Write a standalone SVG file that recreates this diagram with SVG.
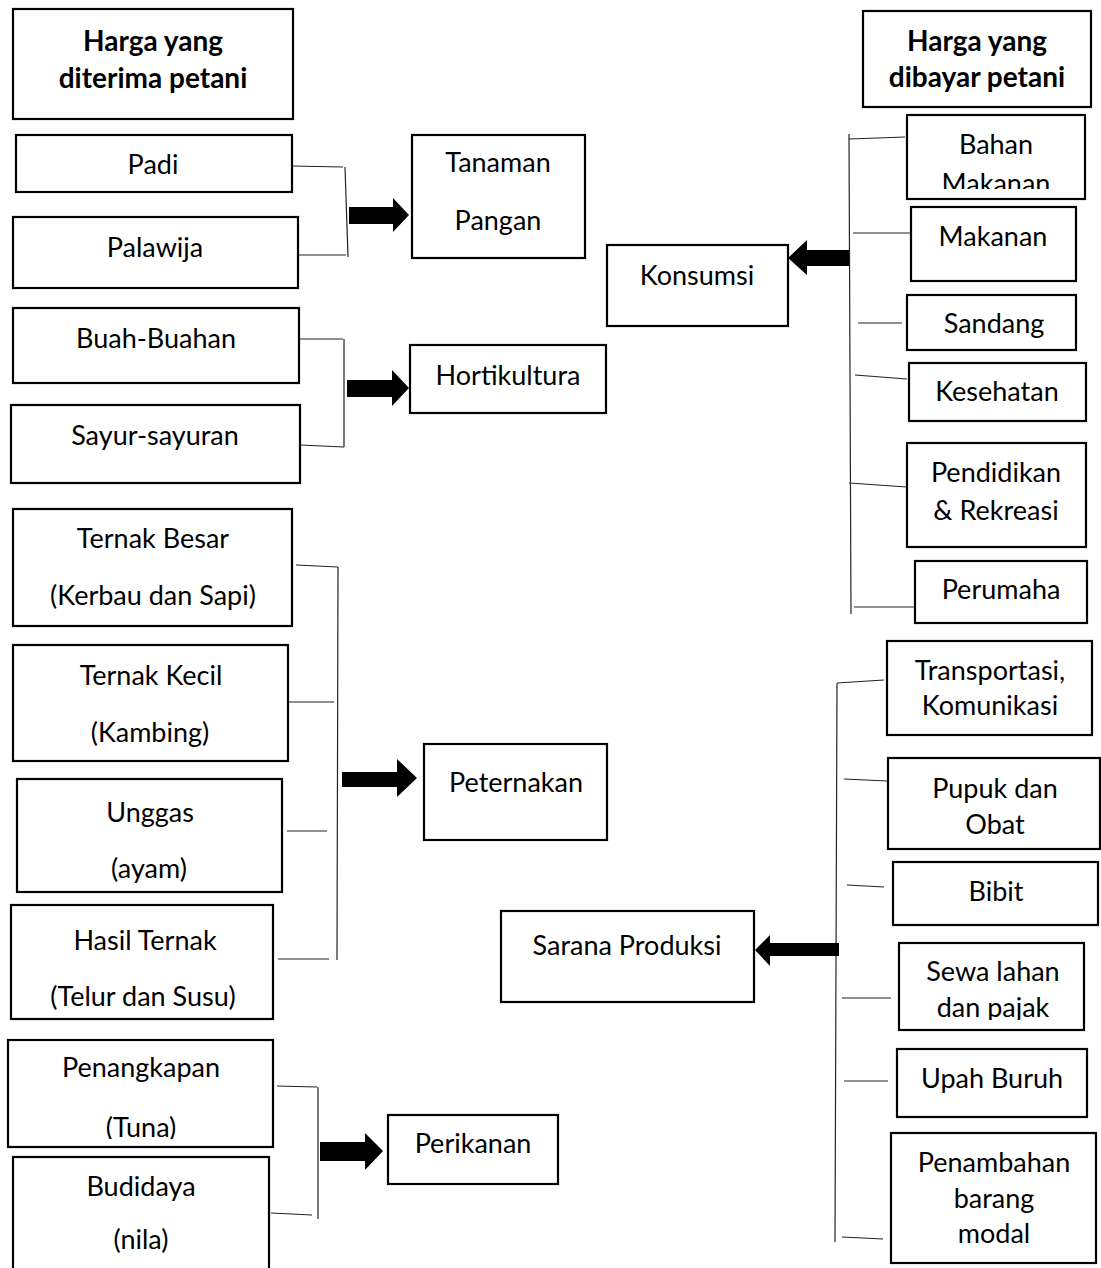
<svg xmlns="http://www.w3.org/2000/svg" width="1101" height="1268" viewBox="0 0 1101 1268">
<style>
.box{fill:#fff;stroke:#000;stroke-width:2.2}
.t{font-family:Lato,"Liberation Sans",sans-serif;font-size:27px;fill:#000;text-anchor:middle}
.h{font-family:Lato,"Liberation Sans",sans-serif;font-size:28px;font-weight:bold;fill:#000;text-anchor:middle}
.ln{stroke:#222;stroke-width:1.2;fill:none}
.ar{fill:#000;stroke:none}
</style>
<defs>
<clipPath id="cBahan"><rect x="907" y="115" width="178" height="74"/></clipPath>
<clipPath id="cSewa"><rect x="899" y="943" width="185" height="77"/></clipPath>
<clipPath id="cTuna"><rect x="8" y="1040" width="265" height="99"/></clipPath>
</defs>
<rect width="1101" height="1268" fill="#fff"/>

<g id="connectors">
<!-- Tanaman Pangan -->
<path class="ln" d="M292,166 L343,167 M345,167 L348,257 M298,255 L346,255"/>
<path class="ar" d="M349,207 H393 V198 L409,215 L393,232 V224 H349 Z"/>
<!-- Hortikultura -->
<path class="ln" d="M300,339 L343,339 M344,339 L344,447 M300,445 L344,447"/>
<path class="ar" d="M347,380 H392 V370 L409,388 L392,406 V397 H347 Z"/>
<!-- Peternakan -->
<path class="ln" d="M296,565 L338,567 M338,567 L337,960 M288,702 L334,702 M287,831 L327,831 M278,959 L329,959"/>
<path class="ar" d="M342,772 H397 V759 L417,778 L397,797 V787 H342 Z"/>
<!-- Perikanan -->
<path class="ln" d="M277,1086 L317,1087 M318,1087 L318,1219 M271,1213 L312,1215"/>
<path class="ar" d="M320,1142 H365 V1133 L383,1151 L365,1170 V1161 H320 Z"/>
<!-- Konsumsi -->
<path class="ln" d="M849,134 L851,614 M849,139 L905,137 M853,233 L910,233 M858,323 L902,323 M855,375 L907,379 M849,483 L907,487 M854,607 L915,607"/>
<path class="ar" d="M849,250 H807 V240 L788,258 L807,275 V266 H849 Z"/>
<!-- Sarana Produksi -->
<path class="ln" d="M837,683 L835,1242 M837,683 L884,680 M844,779 L887,781 M847,885 L884,887 M842,998 L891,998 M844,1081 L888,1081 M842,1237 L883,1239"/>
<path class="ar" d="M839,943 H770 V935 L755,950 L770,966 V956 H839 Z"/>
</g>

<g id="hdr-terima"><rect class="box" x="13" y="9" width="280" height="110"/><text class="h" x="153" y="51">Harga yang</text><text class="h" x="153" y="88">diterima petani</text></g>
<g id="hdr-bayar"><rect class="box" x="863" y="11" width="228" height="96"/><text class="h" x="977" y="51">Harga yang</text><text class="h" x="977" y="87">dibayar petani</text></g>

<g id="padi"><rect class="box" x="16" y="135" width="276" height="57"/><text class="t" x="153" y="174">Padi</text></g>
<g id="palawija"><rect class="box" x="13" y="217" width="285" height="71"/><text class="t" x="155" y="257">Palawija</text></g>
<g id="tanaman-pangan"><rect class="box" x="412" y="135" width="173" height="123"/><text class="t" x="498" y="172">Tanaman</text><text class="t" x="498" y="230">Pangan</text></g>

<g id="buah"><rect class="box" x="13" y="308" width="286" height="75"/><text class="t" x="156" y="348">Buah-Buahan</text></g>
<g id="sayur"><rect class="box" x="11" y="405" width="289" height="78"/><text class="t" x="155" y="445">Sayur-sayuran</text></g>
<g id="hortikultura"><rect class="box" x="410" y="345" width="196" height="68"/><text class="t" x="508" y="385">Hortikultura</text></g>

<g id="ternak-besar"><rect class="box" x="13" y="509" width="279" height="117"/><text class="t" x="153" y="548">Ternak Besar</text><text class="t" x="153" y="605">(Kerbau dan Sapi)</text></g>
<g id="ternak-kecil"><rect class="box" x="13" y="645" width="275" height="116"/><text class="t" x="151" y="685">Ternak Kecil</text><text class="t" x="150" y="742">(Kambing)</text></g>
<g id="unggas"><rect class="box" x="17" y="779" width="265" height="113"/><text class="t" x="150" y="822">Unggas</text><text class="t" x="149" y="878">(ayam)</text></g>
<g id="hasil-ternak"><rect class="box" x="11" y="905" width="262" height="114"/><text class="t" x="145" y="950">Hasil Ternak</text><text class="t" x="143" y="1006">(Telur dan Susu)</text></g>
<g id="peternakan"><rect class="box" x="424" y="744" width="183" height="96"/><text class="t" x="516" y="792">Peternakan</text></g>

<g id="penangkapan"><rect class="box" x="8" y="1040" width="265" height="107"/><text class="t" x="141" y="1077">Penangkapan</text><text class="t" x="141" y="1137" clip-path="url(#cTuna)">(Tuna)</text></g>
<g id="budidaya"><rect class="box" x="13" y="1157" width="256" height="120"/><text class="t" x="141" y="1196">Budidaya</text><text class="t" x="141" y="1249">(nila)</text></g>
<g id="perikanan"><rect class="box" x="388" y="1115" width="170" height="69"/><text class="t" x="473" y="1153">Perikanan</text></g>

<g id="konsumsi"><rect class="box" x="607" y="245" width="181" height="81"/><text class="t" x="697" y="285">Konsumsi</text></g>
<g id="bahan-makanan"><rect class="box" x="907" y="115" width="178" height="84"/><g clip-path="url(#cBahan)"><text class="t" x="996" y="154">Bahan</text><text class="t" x="996" y="193">Makanan</text></g></g>
<g id="makanan"><rect class="box" x="911" y="207" width="165" height="74"/><text class="t" x="993" y="246">Makanan</text></g>
<g id="sandang"><rect class="box" x="907" y="295" width="169" height="55"/><text class="t" x="994" y="333">Sandang</text></g>
<g id="kesehatan"><rect class="box" x="909" y="363" width="177" height="58"/><text class="t" x="997" y="401">Kesehatan</text></g>
<g id="pendidikan"><rect class="box" x="907" y="443" width="179" height="104"/><text class="t" x="996" y="482">Pendidikan</text><text class="t" x="996" y="520">&amp; Rekreasi</text></g>
<g id="perumahan"><rect class="box" x="915" y="561" width="172" height="62"/><text class="t" x="1001" y="599">Perumaha</text></g>

<g id="sarana-produksi"><rect class="box" x="501" y="911" width="253" height="91"/><text class="t" x="627" y="955">Sarana Produksi</text></g>
<g id="transportasi"><rect class="box" x="887" y="641" width="205" height="94"/><text class="t" x="990" y="680">Transportasi,</text><text class="t" x="990" y="715">Komunikasi</text></g>
<g id="pupuk"><rect class="box" x="888" y="758" width="212" height="91"/><text class="t" x="995" y="798">Pupuk dan</text><text class="t" x="995" y="834">Obat</text></g>
<g id="bibit"><rect class="box" x="893" y="862" width="205" height="63"/><text class="t" x="996" y="901">Bibit</text></g>
<g id="sewa"><rect class="box" x="899" y="943" width="185" height="87"/><g clip-path="url(#cSewa)"><text class="t" x="993" y="981">Sewa lahan</text><text class="t" x="993" y="1017">dan pajak</text></g></g>
<g id="upah"><rect class="box" x="897" y="1049" width="190" height="68"/><text class="t" x="992" y="1088">Upah Buruh</text></g>
<g id="penambahan"><rect class="box" x="891" y="1133" width="205" height="130"/><text class="t" x="994" y="1172">Penambahan</text><text class="t" x="994" y="1208">barang</text><text class="t" x="994" y="1243">modal</text></g>
</svg>
